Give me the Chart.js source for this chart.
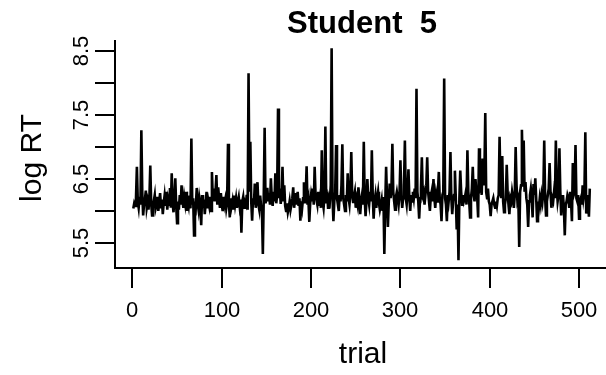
<!DOCTYPE html>
<html>
<head>
<meta charset="utf-8">
<script src="https://cdn.jsdelivr.net/npm/chart.js@4/dist/chart.umd.min.js"></script>
<style>
  html, body { margin: 0; padding: 0; background: #fff; overflow: hidden; }
  #wrap { width: 615px; height: 375px; }
</style>
</head>
<body>
<div id="wrap"><canvas id="rt" width="615" height="375"></canvas></div>
<script>
// log RT per trial (trials 1..512)
const logRT = [
  6.04, 6.12, 6.08, 6.20, 6.69, 6.15, 6.05, 6.22, 6.10, 7.26,
  6.30, 5.93, 6.10, 6.18, 6.32, 6.05, 6.14, 6.02, 6.20, 6.71,
  6.12, 5.93, 6.08, 6.16, 6.25, 6.04, 6.10, 6.22, 6.00, 6.15,
  6.28, 6.06, 6.18, 5.95, 6.12, 6.24, 6.08, 6.30, 6.02, 6.18,
  6.10, 6.36, 6.05, 6.59, 6.12, 5.98, 6.20, 6.51, 6.08, 5.81,
  6.15, 6.02, 6.25, 6.10, 6.40, 6.18, 6.05, 6.22, 6.12, 6.30,
  6.00, 6.16, 6.08, 6.24, 6.04, 7.13, 6.10, 6.20, 5.62, 6.15,
  6.08, 6.36, 6.12, 6.02, 6.20, 6.10, 5.78, 6.25, 6.05, 6.18,
  5.95, 6.12, 6.30, 6.04, 6.16, 6.08, 6.22, 6.00, 6.61, 6.20,
  6.35, 6.15, 6.30, 6.56, 6.10, 6.37, 6.20, 6.05, 6.28, 6.12,
  6.00, 6.22, 6.10, 6.18, 6.04, 6.14, 7.05, 6.12, 5.90, 6.20,
  6.08, 6.16, 6.02, 6.24, 6.10, 6.20, 6.05, 6.15, 6.22, 6.08,
  6.18, 5.66, 6.15, 6.22, 6.05, 6.14, 6.10, 6.25, 6.02, 8.15,
  6.30, 7.08, 6.15, 5.85, 6.20, 6.10, 6.43, 6.05, 6.22, 6.45,
  6.10, 6.02, 6.24, 6.08, 6.00, 5.33, 6.20, 7.30, 6.12, 6.20,
  6.36, 6.15, 6.28, 6.10, 6.51, 6.20, 6.08, 6.30, 6.15, 6.59,
  6.12, 6.25, 7.60, 6.20, 6.35, 6.11, 6.25, 6.69, 6.15, 6.40,
  6.08, 6.00, 6.12, 5.98, 6.05, 6.15, 6.02, 6.10, 6.20, 6.37,
  6.05, 6.18, 6.28, 6.10, 6.30, 6.08, 6.20, 5.85, 6.15, 6.05,
  6.20, 6.45, 6.12, 6.25, 6.70, 6.10, 6.18, 5.83, 6.12, 6.25,
  6.15, 6.35, 6.10, 6.69, 6.25, 6.18, 6.10, 6.30, 6.08, 6.20,
  6.05, 6.95, 6.15, 6.05, 6.25, 7.32, 6.12, 6.30, 6.05, 6.20,
  6.15, 6.40, 8.54, 6.20, 5.84, 6.15, 6.30, 7.03, 6.20, 6.10,
  6.00, 6.25, 6.15, 6.40, 7.04, 6.20, 6.10, 6.00, 6.25, 6.15,
  6.59, 6.20, 6.10, 6.30, 6.92, 6.25, 6.14, 6.22, 6.30, 6.05,
  6.18, 6.10, 6.37, 6.20, 5.95, 6.15, 6.25, 6.10, 7.08, 6.20,
  5.92, 6.15, 6.50, 6.20, 6.10, 6.30, 6.15, 6.95, 6.25, 5.88,
  6.15, 6.25, 6.05, 6.20, 6.30, 6.12, 6.02, 6.10, 6.18, 6.00,
  6.22, 5.33, 6.10, 6.69, 6.20, 5.75, 6.15, 6.43, 6.20, 6.35,
  7.05, 6.30, 6.15, 6.02, 6.22, 6.30, 6.20, 6.10, 6.28, 6.79,
  6.25, 6.05, 6.20, 6.40, 7.10, 6.20, 6.10, 6.30, 6.65, 6.20,
  6.00, 6.25, 6.15, 6.30, 6.20, 6.35, 6.20, 7.91, 6.30, 6.15,
  5.88, 6.20, 6.35, 6.84, 6.25, 6.30, 6.10, 6.25, 6.40, 6.84,
  6.30, 6.15, 6.00, 6.22, 6.30, 6.15, 6.50, 6.20, 6.05, 6.25,
  6.15, 6.30, 6.61, 6.20, 6.10, 5.84, 6.25, 6.30, 8.07, 6.20,
  6.10, 5.84, 6.25, 6.15, 6.30, 6.92, 6.20, 5.95, 6.15, 6.25,
  6.63, 6.20, 5.71, 6.10, 5.23, 6.20, 6.63, 6.30, 6.10, 6.25,
  6.15, 6.20, 6.28, 6.10, 6.95, 6.30, 6.15, 5.90, 6.20, 6.35,
  6.69, 6.25, 6.15, 6.50, 6.30, 6.20, 5.90, 6.98, 6.35, 6.40,
  6.25, 6.82, 6.40, 6.55, 7.53, 6.30, 6.20, 6.35, 6.15, 6.10,
  5.92, 6.10, 6.15, 6.20, 6.10, 6.05, 6.15, 6.08, 6.20, 6.25,
  7.16, 6.40, 6.20, 6.86, 6.15, 5.98, 6.10, 6.20, 6.72, 6.30,
  6.10, 5.95, 6.20, 6.15, 6.30, 6.20, 6.05, 6.25, 7.00, 6.40,
  6.15, 6.20, 5.44, 6.30, 6.40, 7.27, 6.60, 7.10, 6.30, 6.45,
  6.20, 6.10, 5.75, 6.15, 6.25, 6.35, 6.20, 5.90, 6.42, 6.25,
  6.51, 6.20, 5.84, 6.15, 6.05, 6.20, 6.10, 6.25, 6.15, 6.30,
  7.10, 6.20, 5.93, 6.15, 6.25, 6.35, 6.75, 6.30, 6.05, 6.20,
  6.15, 6.30, 6.20, 7.10, 6.35, 6.15, 6.25, 6.98, 6.30, 5.93,
  6.15, 6.25, 6.05, 5.62, 6.10, 6.15, 6.25, 6.20, 6.05, 6.30,
  6.15, 5.84, 6.75, 6.25, 6.30, 7.03, 6.20, 6.15, 6.25, 5.88,
  6.15, 6.20, 6.10, 6.40, 6.20, 6.30, 7.23, 5.96, 6.15, 6.25,
  5.91, 6.35
];
const trials = logRT.map((v, i) => i + 1);

const xTicks = [0, 100, 200, 300, 400, 500];
const yTicks = [5.5, 6, 6.5, 7, 7.5, 8, 8.5];
const yTickLabels = ["5.5", "", "6.5", "", "7.5", "", "8.5"];

const FONT = '"Liberation Sans", Arial, Helvetica, sans-serif';

// R-style L-shaped axes, drawn from the chart's own scales
const rAxes = {
  id: "rAxes",
  afterDraw(chart) {
    const ctx = chart.ctx;
    const area = chart.chartArea;
    const xs = chart.scales.x;
    const ys = chart.scales.y;
    ctx.save();
    ctx.strokeStyle = "#000";
    ctx.fillStyle = "#000";
    ctx.lineWidth = 2;

    ctx.beginPath();
    ctx.moveTo(area.left, area.top);
    ctx.lineTo(area.left, area.bottom);
    ctx.lineTo(chart.width, area.bottom);
    ctx.stroke();

    ctx.font = "22px " + FONT;
    ctx.textAlign = "center";
    ctx.textBaseline = "middle";
    xTicks.forEach((t) => {
      const px = Math.round(xs.getPixelForValue(t));
      ctx.beginPath();
      ctx.moveTo(px, area.bottom);
      ctx.lineTo(px, area.bottom + 20);
      ctx.stroke();
      ctx.fillText(String(t), px, area.bottom + 43);
    });

    yTicks.forEach((t, i) => {
      const py = Math.round(ys.getPixelForValue(t));
      ctx.beginPath();
      ctx.moveTo(area.left, py);
      ctx.lineTo(area.left - 20, py);
      ctx.stroke();
      if (yTickLabels[i]) {
        ctx.save();
        ctx.translate(area.left - 33, py);
        ctx.rotate(-Math.PI / 2);
        ctx.fillText(yTickLabels[i], 0, 0);
        ctx.restore();
      }
    });

    ctx.font = "30px " + FONT;
    ctx.fillText("trial", 363, 355);
    ctx.save();
    ctx.translate(33, 158);
    ctx.rotate(-Math.PI / 2);
    ctx.fillText("log RT", 0, 0);
    ctx.restore();

    ctx.font = "bold 31px " + FONT;
    ctx.fillText("Student  5", 362, 24);
    ctx.restore();
  }
};

new Chart(document.getElementById("rt"), {
  type: "line",
  data: {
    datasets: [
      {
        data: trials.map((t, i) => ({ x: t, y: logRT[i] })),
        borderColor: "#000",
        borderWidth: 2.6,
        pointRadius: 0,
        tension: 0,
        fill: false
      }
    ]
  },
  options: {
    responsive: false,
    animation: false,
    devicePixelRatio: 1,
    layout: { padding: { left: 115, right: 6, top: 40, bottom: 107 } },
    plugins: { legend: { display: false }, tooltip: { enabled: false } },
    scales: {
      x: { type: "linear", min: -19.5, max: 533.5, display: false },
      y: { type: "linear", min: 5.11, max: 8.67, display: false }
    }
  },
  plugins: [rAxes]
});
</script>
</body>
</html>
